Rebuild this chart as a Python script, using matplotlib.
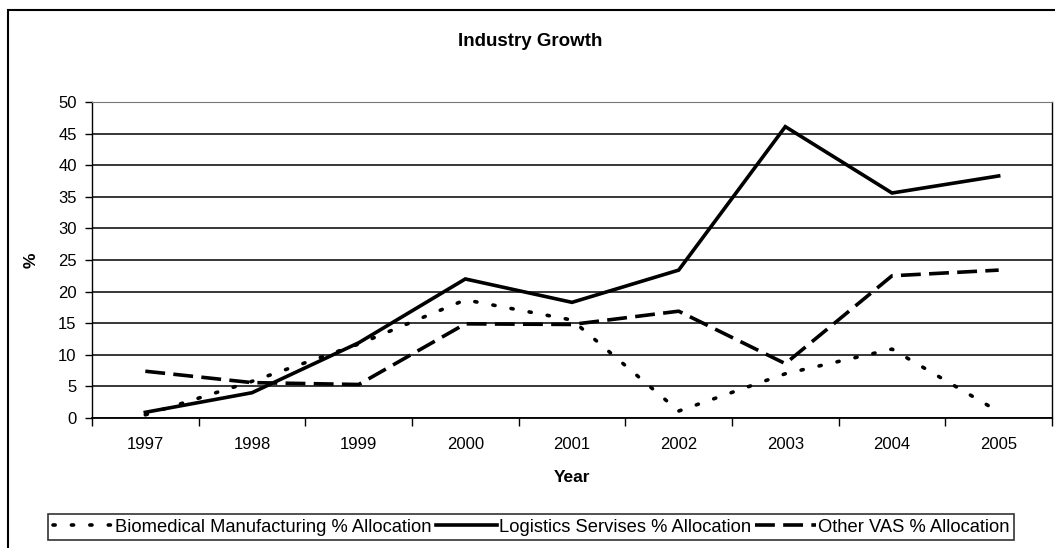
import numpy as np
from matplotlib import pyplot as plt
from matplotlib.patches import Rectangle

# Data
years = ["1997", "1998", "1999", "2000", "2001", "2002", "2003", "2004", "2005"]
biomedical = [0.5, 5.8, 11.7, 18.7, 15.5, 1.1, 7.0, 10.9, 1.0]
logistics = [0.9, 4.0, 11.9, 22.0, 18.3, 23.4, 46.1, 35.6, 38.3]
other_vas = [7.4, 5.6, 5.3, 14.9, 14.8, 16.9, 8.6, 22.5, 23.4]

plt.rcParams['font.family'] = ['Liberation Sans', 'DejaVu Sans']

W, H = 1055, 548
fig = plt.figure(figsize=(W/100, H/100), dpi=100)
ax = fig.add_axes([92/W, 1 - 418/H, (1052-92)/W, (418-102)/H])

x = np.arange(len(years))
ax.plot(x, biomedical, color="black", lw=2.6, dashes=(0.6, 4.5),
        dash_capstyle="round",
        label="Biomedical Manufacturing % Allocation")
ax.plot(x, logistics, color="black", lw=2.6, solid_joinstyle="miter",
        label="Logistics Servises % Allocation")
ax.plot(x, other_vas, color="black", lw=2.6, dashes=(5.5, 2.3),
        label="Other VAS % Allocation")

ax.set_xlim(-0.5, len(years) - 0.5)
ax.set_ylim(0, 50)
ax.set_yticks(range(0, 51, 5))
ax.set_xticks(x)
ax.set_xticklabels(years, fontsize=12)
ax.set_xticks(np.arange(-0.5, len(years), 1), minor=True)
ax.tick_params(axis="x", which="major", length=0, pad=14)
ax.tick_params(axis="x", which="minor", length=6, width=1, direction="out")
ax.tick_params(axis="y", length=5, width=1, labelsize=12, pad=6)
ax.grid(axis="y", color="black", lw=1.1)
ax.set_axisbelow(True)

ax.spines["top"].set_color("#777777")
ax.spines["top"].set_linewidth(0.8)
ax.spines["right"].set_linewidth(1)
ax.spines["left"].set_linewidth(1)
ax.spines["bottom"].set_linewidth(1.3)

ax.set_xlabel("Year", fontsize=12.5, fontweight="bold")
ax.xaxis.set_label_coords(0.5, (418 - 470) / 316)
ax.set_ylabel("%", fontsize=12.5, fontweight="bold", labelpad=14)
fig.text(530/W, 1 - 42/H, "Industry Growth", ha="center", va="center",
         fontsize=13.5, fontweight="bold")

leg = ax.legend(loc="center", bbox_to_anchor=(531/W, 1 - 527/H),
                bbox_transform=fig.transFigure, ncol=3, fontsize=13.2,
                frameon=True, fancybox=False, handlelength=3.3,
                handletextpad=0.1, columnspacing=0.25, borderpad=0.25,
                borderaxespad=0)
leg.get_frame().set_edgecolor("black")
leg.get_frame().set_linewidth(1.2)

# outer chart border (right side runs off the picture)
fig.patches.append(Rectangle((8/W, -0.02), 1.1, 1 - 10/H + 0.02,
                             transform=fig.transFigure, fill=False,
                             edgecolor="black", lw=1.5))

plt.savefig("out.png", dpi=100)
